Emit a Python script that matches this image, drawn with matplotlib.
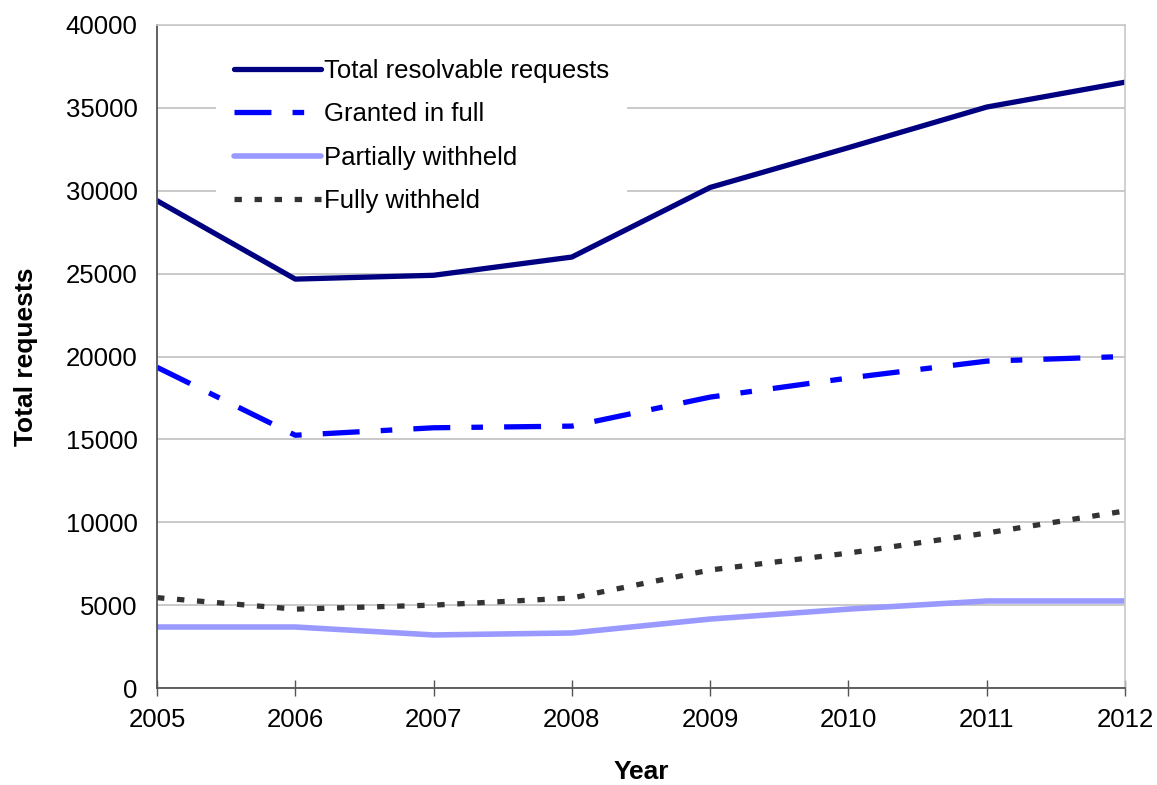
import matplotlib.pyplot as plt

plt.rcParams['font.family'] = ['Liberation Sans', 'DejaVu Sans']

years = [2005, 2006, 2007, 2008, 2009, 2010, 2011, 2012]
total = [29400, 24670, 24900, 26000, 30200, 32600, 35050, 36550]
granted = [19350, 15250, 15700, 15800, 17550, 18700, 19720, 20000]
partial = [3680, 3680, 3200, 3320, 4160, 4760, 5250, 5250]
fully = [5450, 4760, 5000, 5430, 7120, 8140, 9350, 10680]

fig = plt.figure(figsize=(11.57, 7.85), dpi=100)
ax = fig.add_axes([157/1157, 1-688/785, (1125-157)/1157, (688-25)/785])

ax.plot(years, total, color='#000080', lw=3.8, solid_capstyle='round',
        label='Total resolvable requests')
ax.plot(years, granted, color='#0000FF', lw=3.8, dashes=(7, 4, 2.2, 4),
        dash_capstyle='butt', label='Granted in full')
ax.plot(years, partial, color='#9999FF', lw=4.0, solid_capstyle='round',
        label='Partially withheld')
ax.plot(years, fully, color='#333333', lw=3.8, dashes=(1.4, 2.4),
        dash_capstyle='butt', label='Fully withheld')

ax.set_xlim(2005, 2012)
ax.set_ylim(0, 40000)
ax.set_yticks(range(0, 40001, 5000))
ax.set_xticks(years)
ax.grid(axis='y', color='#c0c0c0', lw=1.2)
ax.set_axisbelow(True)

for s in ['top', 'right']:
    ax.spines[s].set_color('#c8c8c8')
    ax.spines[s].set_linewidth(1.2)
for s in ['left', 'bottom']:
    ax.spines[s].set_color('#555555')
    ax.spines[s].set_linewidth(1.3)

ax.tick_params(axis='y', length=0, pad=14, labelsize=18.5)
ax.tick_params(axis='x', direction='inout', length=11.5, width=1, color='#555555',
               pad=9, labelsize=18.5)

ax.set_xlabel('Year', fontsize=19, fontweight='bold', labelpad=20)
ax.set_ylabel('Total requests', fontsize=19, fontweight='bold', labelpad=20)

leg = ax.legend(loc='upper left', bbox_to_anchor=(0.061, 0.976), fontsize=18.5,
                frameon=True, fancybox=False, edgecolor='none', framealpha=1,
                handlelength=3.4, handletextpad=0.1, labelspacing=0.76,
                borderpad=0.7, borderaxespad=0)
leg.set_zorder(1.5)

fig.savefig('out.png', dpi=100)
